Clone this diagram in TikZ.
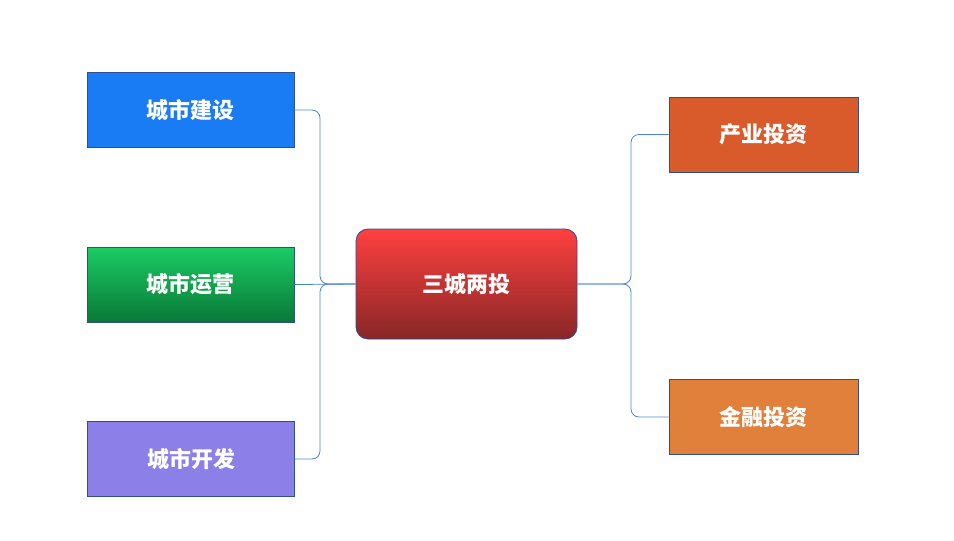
\documentclass[tikz,border=0pt]{standalone}
\usepackage{fontspec}
\newfontfamily\cjk{Noto Sans CJK SC}
\usepackage{tikz}
\usetikzlibrary{positioning}

\definecolor{lineblue}{HTML}{4A86D0}
\definecolor{boxedge}{HTML}{2F4F8F}

\tikzset{
  box/.style={draw=boxedge,thick,minimum width=207pt,minimum height=75pt,
    text=white,font=\cjk\bfseries\fontsize{22}{26}\selectfont},
  conn/.style={lineblue,line width=0.8pt,rounded corners=8pt}
}

\begin{document}
\begin{tikzpicture}[x=1pt,y=-1pt]
    \useasboundingbox (0,0) rectangle (954,541);
    \node[box,rounded corners=12pt,minimum width=221pt,minimum height=110pt,
      top color=red!75!white,bottom color=red!45!black!85] (center) at (466.5,284) {三城两投};
    \node[box,fill={rgb,255:red,26;green,124;blue,245}] (build) at (190.5,110) {城市建设};
    \node[box,top color={rgb,255:red,26;green,204;blue,100},bottom color={rgb,255:red,10;green,120;blue,55}] (operate) at (190.5,284.5) {城市运营};
    \node[box,fill={rgb,255:red,140;green,128;blue,232}] (develop) at (191,459) {城市开发};
    \node[box,minimum width=189pt,fill={rgb,255:red,217;green,90;blue,42}] (industry) at (763.5,134.5) {产业投资};
    \node[box,minimum width=189pt,fill={rgb,255:red,224;green,128;blue,58}] (finance) at (763.5,417) {金融投资};
    % left connectors
    \coordinate (ltrunk) at (320,284);
    \draw[conn] (center.west) -- (ltrunk) |- (build.east);
    \draw[conn] (center.west) -- (ltrunk) |- (develop.east);
    \draw[conn] (center.west) -- (operate.east);
    % right connectors
    \coordinate (rtrunk) at (631,284);
    \draw[conn] (center.east) -- (rtrunk) |- (industry.west);
    \draw[conn] (center.east) -- (rtrunk) |- (finance.west);
\end{tikzpicture}
\end{document}
